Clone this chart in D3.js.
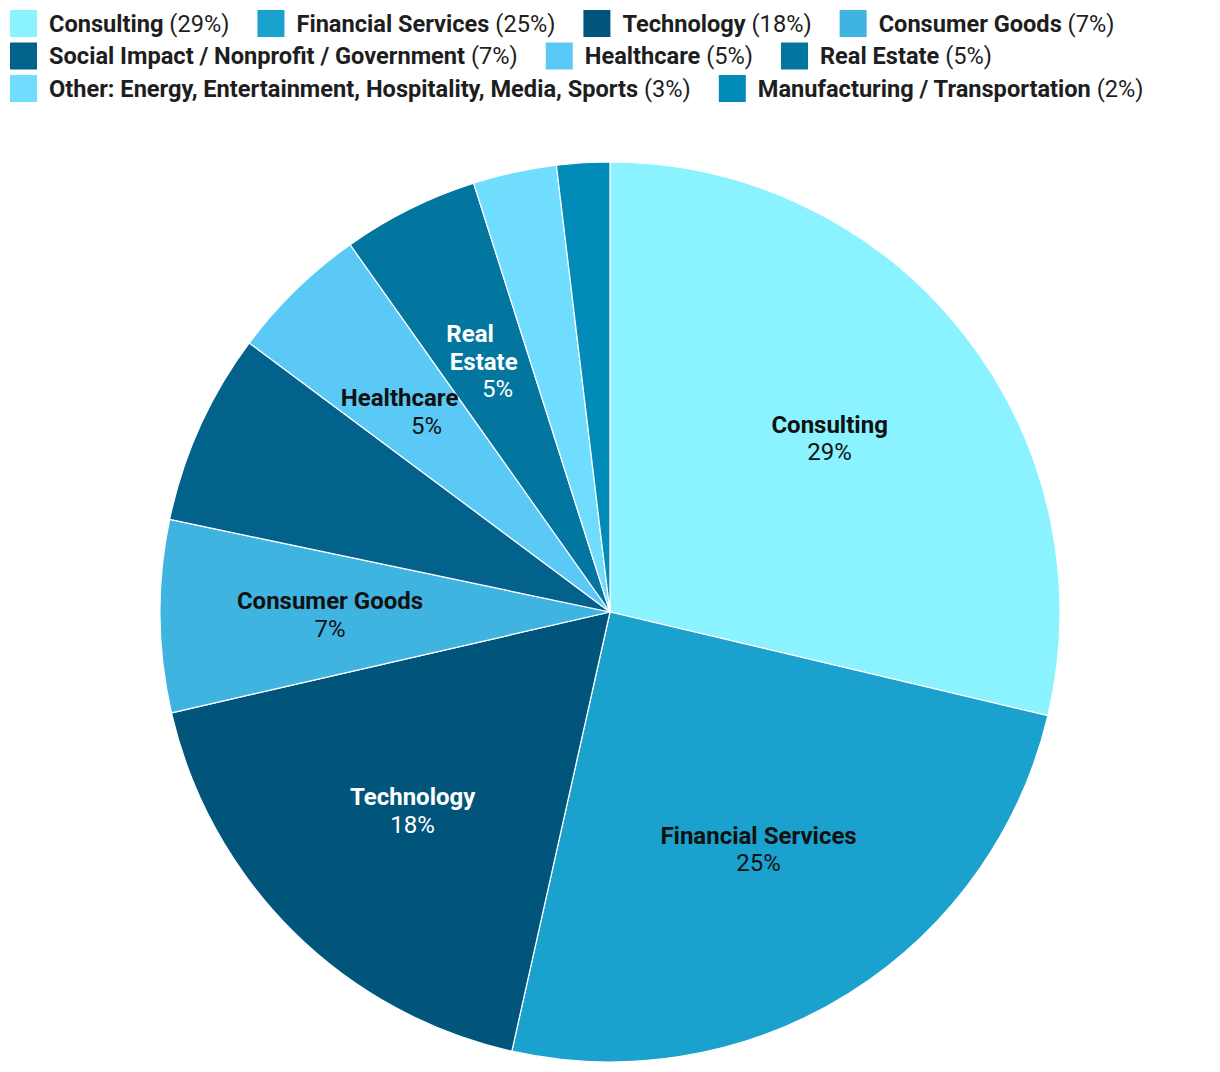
<!DOCTYPE html>
<html><head><meta charset="utf-8">
<script src="https://cdn.jsdelivr.net/npm/d3@7"></script>
<style>body{margin:0;background:#fff;font-family:Roboto,"Noto Sans",sans-serif;}</style>
</head><body>
<svg id="c" width="1220" height="1072"></svg>
<script>
const categories = ["Consulting","Financial Services","Technology","Consumer Goods","Social Impact / Nonprofit / Government","Healthcare","Real Estate","Other: Energy, Entertainment, Hospitality, Media, Sports","Manufacturing / Transportation"];
const values = [28.7,24.8,17.9,6.9,6.9,5.0,4.9,3.0,1.9];
const colors = ["#8af3ff","#1ba1cd","#02557a","#3fb4e1","#03628c","#5bc9f5","#0376a0","#70ddff","#018bb8"];
const labelLines = [["Consulting"],["Financial Services"],["Technology"],["Consumer Goods"],null,["Healthcare"],["Real","Estate"],null,null];
const labelColors = ["#111","#111","#fff","#111",null,"#111","#fff",null,null];

const svg = d3.select("#c");
const total = d3.sum(values);
const pct = v => Math.round(v/total*100) + "%";

// Legend
const legend = svg.append("g");
const maxW = 1210, rowH = 32.5, sq = 27;
let x = 10, row = 0;
categories.forEach((c,i)=>{
  const g = legend.append("g");
  const t = g.append("text").attr("x", sq+12).attr("y", 0).attr("dy","0.35em")
    .style("font-size","23.6px").attr("fill","#1e1e1e");
  t.append("tspan").style("font-weight","bold").text(c);
  t.append("tspan").text(" (" + pct(values[i]) + ")");
  const w = sq + 12 + t.node().getComputedTextLength();
  if (x + w > maxW) { x = 10; row++; }
  g.attr("transform", `translate(${x},${23.5 + row*rowH})`);
  g.insert("rect","text").attr("x",0).attr("y",-sq/2).attr("width",sq).attr("height",sq).attr("fill",colors[i]);
  x += w + 28;
});

// Pie
const cx = 610, cy = 612, R = 450, lr = 280;
const pie = d3.pie().sort(null).value(d=>d)(values);
const arc = d3.arc().innerRadius(0).outerRadius(R);
const lab = d3.arc().innerRadius(lr).outerRadius(lr);
const g = svg.append("g").attr("transform",`translate(${cx},${cy})`);
g.selectAll("path").data(pie).join("path").attr("d",arc).attr("fill",(d,i)=>colors[i])
  .attr("stroke","#fff").attr("stroke-width",1.2);

const lh = 27.5;
pie.forEach((d,i)=>{
  if(!labelLines[i]) return;
  const [px,py] = lab.centroid(d);
  const lines = labelLines[i].map(s=>({s,b:true})).concat([{s:pct(values[i]),b:false}]);
  const n = lines.length;
  const a = (d.startAngle+d.endAngle)/2;
  const slope = values[i] < 6 ? Math.sin(a)/(-Math.cos(a)) : 0; // dx per dy along radial
  lines.forEach((ln,k)=>{
    const dy = (k-(n-1)/2)*lh;
    g.append("text").attr("x", px + slope*dy - (values[i] < 6 ? 1.5 : 0)).attr("y", py+dy).attr("dy","0.35em")
      .attr("text-anchor","middle").style("font-size","24px")
      .style("font-weight", ln.b?"bold":"normal").attr("fill",labelColors[i]).text(ln.s);
  });
});
</script>
</body></html>
